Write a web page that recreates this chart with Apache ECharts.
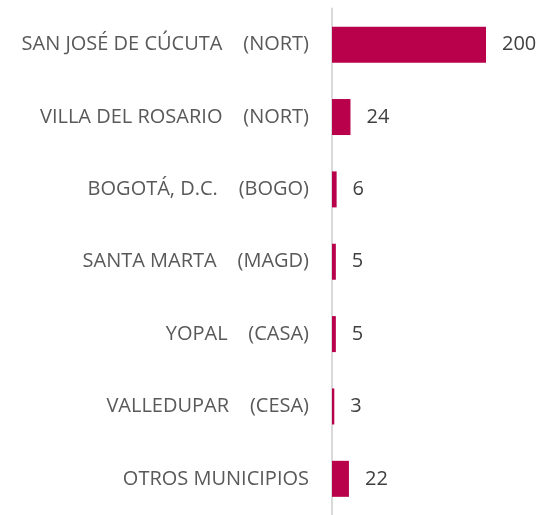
<!DOCTYPE html>
<html>
<head>
<meta charset="utf-8">
<script src="https://cdn.jsdelivr.net/npm/echarts@6/dist/echarts.min.js"></script>
<style>
html,body{margin:0;padding:0;background:#fff;}
#chart{width:541px;height:515px;}
</style>
</head>
<body>
<div id="chart"></div>
<script>
const categories = [
  "SAN JOSÉ DE CÚCUTA    (NORT)",
  "VILLA DEL ROSARIO    (NORT)",
  "BOGOTÁ, D.C.    (BOGO)",
  "SANTA MARTA    (MAGD)",
  "YOPAL    (CASA)",
  "VALLEDUPAR    (CESA)",
  "OTROS MUNICIPIOS"
];
const values = [200, 24, 6, 5, 5, 3, 22];

const chart = echarts.init(document.getElementById('chart'), null, {renderer: 'canvas'});
chart.setOption({
  animation: false,
  backgroundColor: '#ffffff',
  grid: {left: 332, top: 8.5, width: 154, height: 511},
  xAxis: {
    type: 'value', min: 0, max: 200, show: false
  },
  yAxis: {
    type: 'category',
    data: categories,
    inverse: true,
    axisLine: {show: true, lineStyle: {color: '#d9d9d9', width: 2}},
    axisTick: {show: false},
    splitLine: {show: false},
    axisLabel: {
      margin: 23,
      color: '#595959',
      fontSize: 20,
      fontFamily: 'Open Sans'
    }
  },
  series: [{
    type: 'bar',
    data: values,
    barWidth: 36,
    itemStyle: {color: '#B8004B'},
    label: {
      show: true,
      position: 'right',
      distance: 16,
      color: '#404040',
      fontSize: 20,
      fontFamily: 'Open Sans'
    }
  }]
});
</script>
</body>
</html>
